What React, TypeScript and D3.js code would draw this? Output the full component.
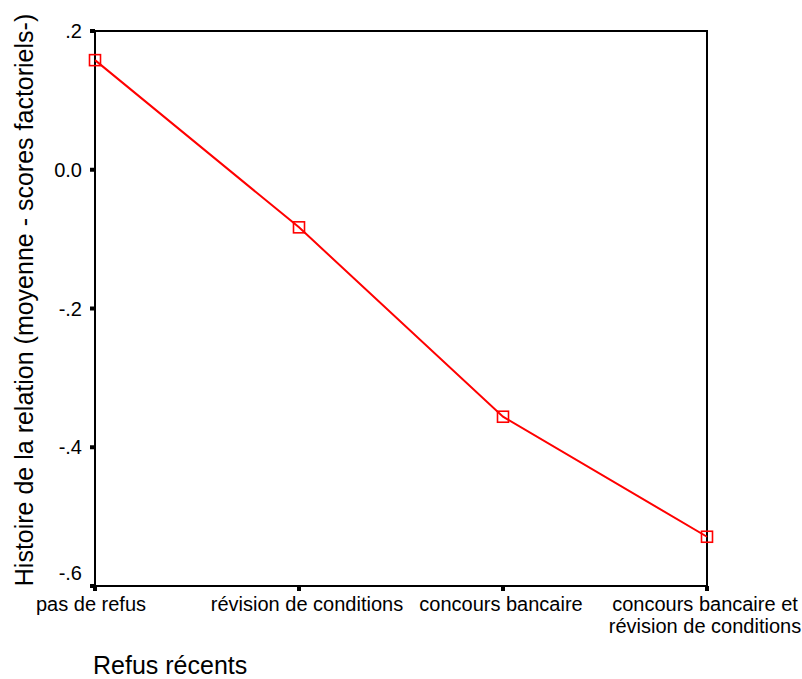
import * as d3 from "d3";

const WIDTH = 802;
const HEIGHT = 679;
const MARGIN = { top: 31, right: 95, bottom: 93, left: 95 };

const categories = [
  "pas de refus",
  "révision de conditions",
  "concours bancaire",
  "concours bancaire et\nrévision de conditions",
];
const means = [0.158, -0.083, -0.356, -0.529];
const yTicks = [0.2, 0.0, -0.2, -0.4, -0.6];
const yTickLabels = [".2", "0.0", "-.2", "-.4", "-.6"];

const xTitle = "Refus récents";
const yTitle = "Histoire de la relation (moyenne - scores factoriels-)";

const FONT = "'Liberation Sans', Arial, sans-serif";

// small horizontal nudges so the category labels sit where the original put them
const X_LABEL_NUDGE = [-4, 8, -2, -2];

export default function App() {
  const innerW = WIDTH - MARGIN.left - MARGIN.right;
  const innerH = HEIGHT - MARGIN.top - MARGIN.bottom;

  const xScale = d3.scalePoint<string>().domain(categories).range([0, innerW]);
  const yScale = d3.scaleLinear().domain([-0.6, 0.2]).range([innerH, 0]);

  const linePath = d3
    .line<number>()
    .x((_, i) => xScale(categories[i]) ?? 0)
    .y((d) => yScale(d))(means);

  const MARKER = 11;

  return (
    <svg
      width={WIDTH}
      height={HEIGHT}
      style={{ position: "absolute", left: 0, top: 0, background: "#fff" }}
      fontFamily={FONT}
    >
      <g transform={`translate(${MARGIN.left}, ${MARGIN.top})`}>
        {/* frame */}
        <rect
          x={0}
          y={0}
          width={innerW}
          height={innerH}
          fill="none"
          stroke="#000"
          strokeWidth={2}
        />

        {/* y ticks */}
        {yTicks.map((t, i) => (
          <g key={t} transform={`translate(0, ${yScale(t)})`}>
            <line x1={-5} x2={0} stroke="#000" strokeWidth={4} />
            <text
              x={-13}
              // the bottom label is lifted so it clears the category labels
              y={i === yTicks.length - 1 ? -13 : 0}
              dy="0.35em"
              textAnchor="end"
              fontSize={20}
              fill="#000"
            >
              {yTickLabels[i]}
            </text>
          </g>
        ))}

        {/* x ticks */}
        {categories.map((c, i) => (
          <g key={c} transform={`translate(${xScale(c)}, ${innerH})`}>
            <line y1={0} y2={5} stroke="#000" strokeWidth={4} />
            <text textAnchor="middle" fontSize={20} fill="#000">
              {c.split("\n").map((line, j) => (
                <tspan key={j} x={X_LABEL_NUDGE[i]} y={25 + j * 22}>
                  {line}
                </tspan>
              ))}
            </text>
          </g>
        ))}

        {/* line */}
        <path d={linePath ?? undefined} fill="none" stroke="#ff0000" strokeWidth={2} />

        {/* markers */}
        {means.map((m, i) => (
          <rect
            key={i}
            x={(xScale(categories[i]) ?? 0) - MARKER / 2}
            y={yScale(m) - MARKER / 2}
            width={MARKER}
            height={MARKER}
            fill="none"
            stroke="#ff0000"
            strokeWidth={1.6}
          />
        ))}
      </g>

      {/* axis titles */}
      <text x={93} y={674} fontSize={25} fill="#000">
        {xTitle}
      </text>
      <text
        transform={`translate(33, 300) rotate(-90)`}
        textAnchor="middle"
        fontSize={25}
        fill="#000"
      >
        {yTitle}
      </text>
    </svg>
  );
}
